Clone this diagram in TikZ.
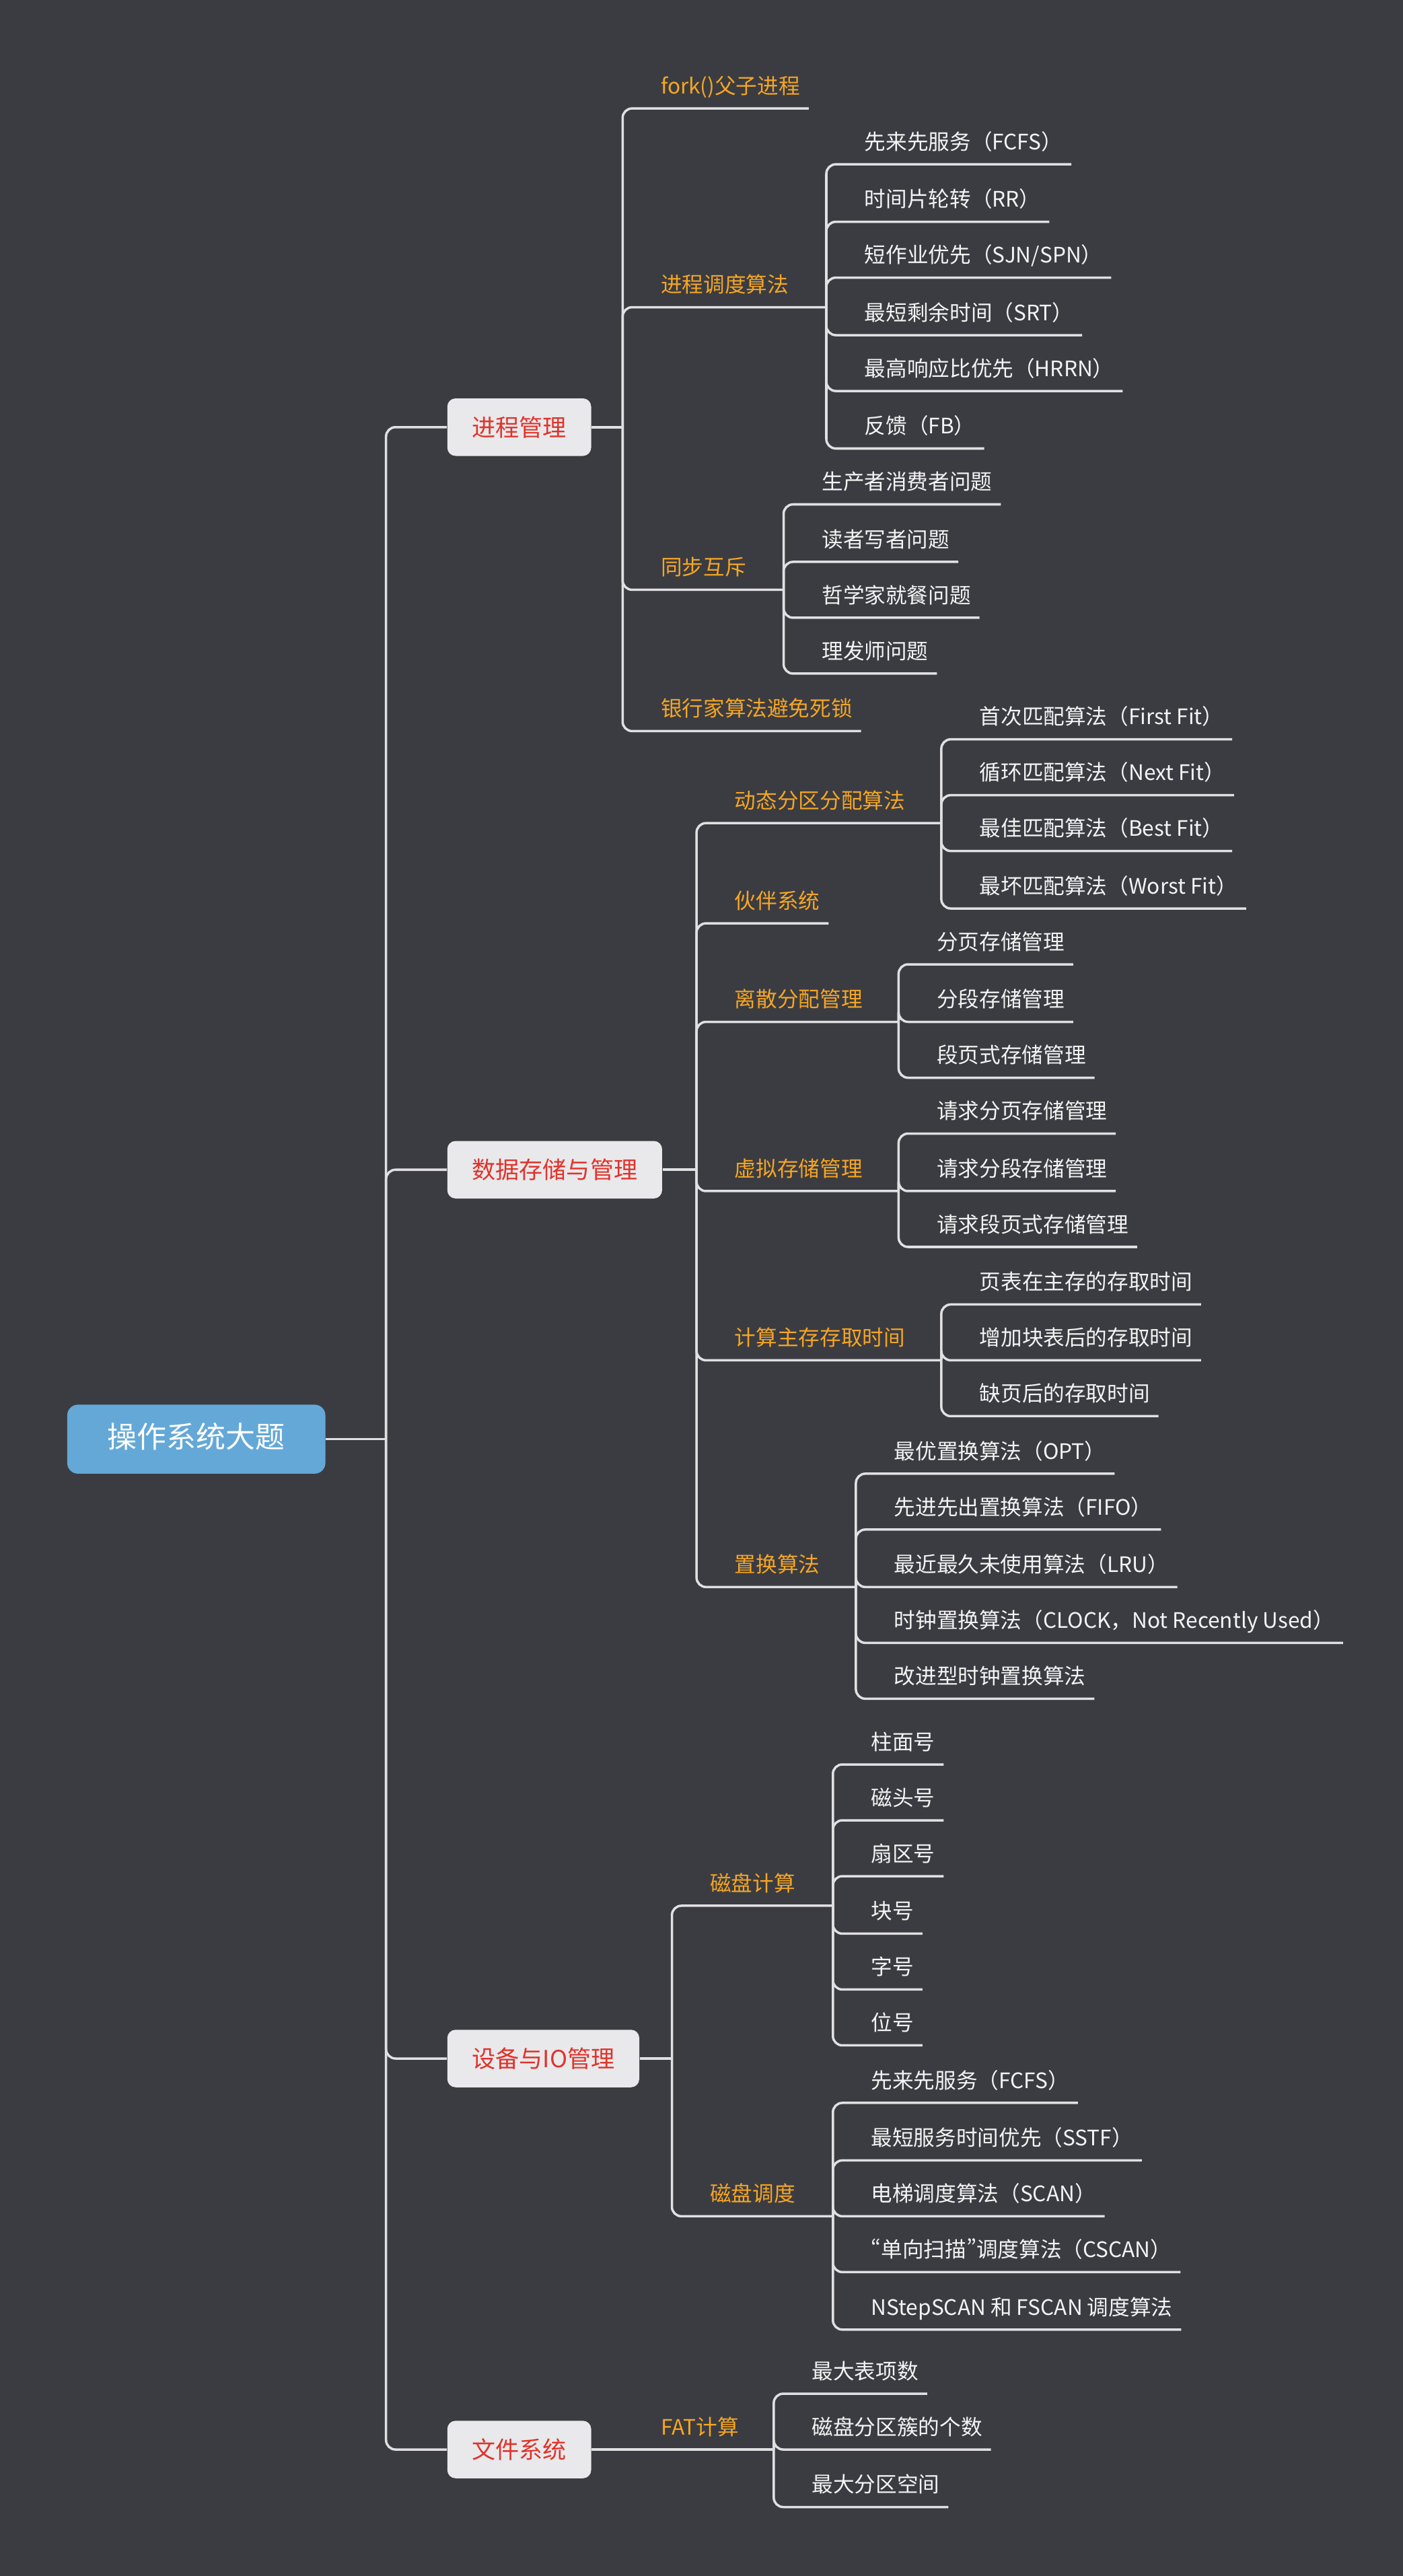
\documentclass[tikz,border=0pt]{standalone}
\usepackage{fontspec}
\usepackage{tikz}
\newfontfamily\cjk{Noto Sans CJK SC}
\newfontfamily\cjknarrow[RawFeature=+pwid]{Noto Sans CJK SC}
\definecolor{bgdark}{HTML}{3B3C42}
\definecolor{linkgray}{HTML}{E0E0E2}
\definecolor{boxgray}{HTML}{E9E9EB}
\definecolor{topicred}{HTML}{E0332B}
\definecolor{suborange}{HTML}{F5A623}
\definecolor{rootblue}{HTML}{64A8D8}
\definecolor{leafwhite}{HTML}{F4F4F4}

\begin{document}
\begin{tikzpicture}[x=0.24414mm, y=-0.24414mm,
    link/.style={draw=linkgray, line width=1pt, rounded corners=4pt},
    rootbox/.style={fill=rootblue, text=white, rounded corners=4.5pt, inner xsep=6mm, inner ysep=0pt,
        minimum height=10.25mm, font=\cjk\fontsize{12.5pt}{14pt}\selectfont, text height=0.76em, text depth=0pt},
    topic/.style={anchor=west, fill=boxgray, text=topicred, rounded corners=3.5pt, inner xsep=3.66mm, inner ysep=0pt,
        minimum height=8.55mm, font=\cjk\fontsize{10pt}{12pt}\selectfont, text height=0.76em, text depth=0pt},
    sub/.style={anchor=south west, text=suborange, inner xsep=1.22mm, inner ysep=2.1mm,
        font=\cjk\fontsize{9pt}{11pt}\selectfont, text height=0.76em, text depth=0pt},
    leaf/.style={sub, text=leafwhite}]
    % Background
    \fill[bgdark] (0,0) rectangle (854,1568);
    \useasboundingbox (0,0) rectangle (854,1568);

    % Root and main topics
    \node[rootbox] (root) at (119.5,876) {操作系统大题};
    \coordinate (rootT) at (235,876);
    \node[topic] (proc) at (272,260) {进程管理};
    \node[topic] (store) at (272,712) {数据存储与管理};
    \node[topic] (dev) at (272,1253) {设备与IO管理};
    \node[topic] (fs) at (272,1491) {文件系统};
    \draw[link] (root.east) -- (rootT);
    \draw[link] (rootT) |- (proc.west);
    \draw[link] (rootT) |- (store.west);
    \draw[link] (rootT) |- (dev.west);
    \draw[link] (rootT) |- (fs.west);

    % Process management
    \coordinate (procT) at (379,260);
    \node[sub] (fork) at (397,66) {fork()父子进程};
    \node[sub] (sched) at (397,187) {进程调度算法};
    \coordinate (schedT) at (503,187);
    \node[sub] (sync) at (397,359) {同步互斥};
    \coordinate (syncT) at (477,359);
    \node[sub] (bank) at (397,445) {银行家算法避免死锁};
    \draw[link] (proc.east) -- (procT);
    \draw[link] (procT) |- (fork.south east);
    \draw[link] (procT) |- (schedT);
    \draw[link] (procT) |- (syncT);
    \draw[link] (procT) |- (bank.south east);

    \node[leaf] (fcfs) at (521,100) {先来先服务（FCFS）};
    \node[leaf] (rr) at (521,135) {时间片轮转（RR）};
    \node[leaf] (sjn) at (521,169) {短作业优先（SJN/SPN）};
    \node[leaf] (srt) at (521,204) {最短剩余时间（SRT）};
    \node[leaf] (hrrn) at (521,238) {最高响应比优先（HRRN）};
    \node[leaf] (fb) at (521,273) {反馈（FB）};
    \draw[link] (schedT) |- (fcfs.south east);
    \draw[link] (schedT) |- (rr.south east);
    \draw[link] (schedT) |- (sjn.south east);
    \draw[link] (schedT) |- (srt.south east);
    \draw[link] (schedT) |- (hrrn.south east);
    \draw[link] (schedT) |- (fb.south east);

    \node[leaf] (prod) at (495,307) {生产者消费者问题};
    \node[leaf] (rw) at (495,342) {读者写者问题};
    \node[leaf] (phil) at (495,376) {哲学家就餐问题};
    \node[leaf] (barber) at (495,410) {理发师问题};
    \draw[link] (syncT) |- (prod.south east);
    \draw[link] (syncT) |- (rw.south east);
    \draw[link] (syncT) |- (phil.south east);
    \draw[link] (syncT) |- (barber.south east);

    % Storage management
    \coordinate (storeT) at (424,712);
    \node[sub] (dyn) at (442,501) {动态分区分配算法};
    \coordinate (dynT) at (573,501);
    \node[sub] (buddy) at (442,562) {伙伴系统};
    \node[sub] (disc) at (442,622) {离散分配管理};
    \coordinate (discT) at (547,622);
    \node[sub] (virt) at (442,725) {虚拟存储管理};
    \coordinate (virtT) at (547,725);
    \node[sub] (acc) at (442,828) {计算主存存取时间};
    \coordinate (accT) at (573,828);
    \node[sub] (repl) at (442,966) {置换算法};
    \coordinate (replT) at (521,966);
    \draw[link] (store.east) -- (storeT);
    \draw[link] (storeT) |- (dynT);
    \draw[link] (storeT) |- (buddy.south east);
    \draw[link] (storeT) |- (discT);
    \draw[link] (storeT) |- (virtT);
    \draw[link] (storeT) |- (accT);
    \draw[link] (storeT) |- (replT);

    \node[leaf] (ff) at (591,450) {首次匹配算法（First Fit）};
    \node[leaf] (nf) at (591,484) {循环匹配算法（Next Fit）};
    \node[leaf] (bf) at (591,518) {最佳匹配算法（Best Fit）};
    \node[leaf] (wf) at (591,553) {最坏匹配算法（Worst Fit）};
    \draw[link] (dynT) |- (ff.south east);
    \draw[link] (dynT) |- (nf.south east);
    \draw[link] (dynT) |- (bf.south east);
    \draw[link] (dynT) |- (wf.south east);

    \node[leaf] (page) at (565,587) {分页存储管理};
    \node[leaf] (seg) at (565,622) {分段存储管理};
    \node[leaf] (segpage) at (565,656) {段页式存储管理};
    \draw[link] (discT) |- (page.south east);
    \draw[link] (discT) |- (seg.south east);
    \draw[link] (discT) |- (segpage.south east);

    \node[leaf] (rpage) at (565,690) {请求分页存储管理};
    \node[leaf] (rseg) at (565,725) {请求分段存储管理};
    \node[leaf] (rsegpage) at (565,759) {请求段页式存储管理};
    \draw[link] (virtT) |- (rpage.south east);
    \draw[link] (virtT) |- (rseg.south east);
    \draw[link] (virtT) |- (rsegpage.south east);

    \node[leaf] (pt) at (591,794) {页表在主存的存取时间};
    \node[leaf] (tlb) at (591,828) {增加块表后的存取时间};
    \node[leaf] (fault) at (591,862) {缺页后的存取时间};
    \draw[link] (accT) |- (pt.south east);
    \draw[link] (accT) |- (tlb.south east);
    \draw[link] (accT) |- (fault.south east);

    \node[leaf] (opt) at (539,897) {最优置换算法（OPT）};
    \node[leaf] (fifo) at (539,931) {先进先出置换算法（FIFO）};
    \node[leaf] (lru) at (539,966) {最近最久未使用算法（LRU）};
    \node[leaf] (clock) at (539,1000) {时钟置换算法（CLOCK，Not Recently Used）};
    \node[leaf] (eclock) at (539,1034) {改进型时钟置换算法};
    \draw[link] (replT) |- (opt.south east);
    \draw[link] (replT) |- (fifo.south east);
    \draw[link] (replT) |- (lru.south east);
    \draw[link] (replT) |- (clock.south east);
    \draw[link] (replT) |- (eclock.south east);

    % Devices and IO
    \coordinate (devT) at (409,1253);
    \node[sub] (dcalc) at (427,1160) {磁盘计算};
    \coordinate (dcalcT) at (507,1160);
    \node[sub] (dsched) at (427,1349) {磁盘调度};
    \coordinate (dschedT) at (507,1349);
    \draw[link] (dev.east) -- (devT);
    \draw[link] (devT) |- (dcalcT);
    \draw[link] (devT) |- (dschedT);

    \node[leaf] (cyl) at (525,1074) {柱面号};
    \node[leaf] (head) at (525,1108) {磁头号};
    \node[leaf] (sector) at (525,1142) {扇区号};
    \node[leaf] (block) at (525,1177) {块号};
    \node[leaf] (word) at (525,1211) {字号};
    \node[leaf] (bit) at (525,1245) {位号};
    \draw[link] (dcalcT) |- (cyl.south east);
    \draw[link] (dcalcT) |- (head.south east);
    \draw[link] (dcalcT) |- (sector.south east);
    \draw[link] (dcalcT) |- (block.south east);
    \draw[link] (dcalcT) |- (word.south east);
    \draw[link] (dcalcT) |- (bit.south east);

    \node[leaf] (dfcfs) at (525,1280) {先来先服务（FCFS）};
    \node[leaf] (sstf) at (525,1315) {最短服务时间优先（SSTF）};
    \node[leaf] (scan) at (525,1349) {电梯调度算法（SCAN）};
    \node[leaf] (cscan) at (525,1383) {{\cjknarrow “}单向扫描{\cjknarrow ”}调度算法（CSCAN）};
    \node[leaf] (nstep) at (525,1418) {NStepSCAN 和 FSCAN 调度算法};
    \draw[link] (dschedT) |- (dfcfs.south east);
    \draw[link] (dschedT) |- (sstf.south east);
    \draw[link] (dschedT) |- (scan.south east);
    \draw[link] (dschedT) |- (cscan.south east);
    \draw[link] (dschedT) |- (nstep.south east);

    % File system
    \node[sub] (fat) at (397,1491) {FAT计算};
    \coordinate (fatT) at (471,1491);
    \draw[link] (fs.east) -- (fatT);

    \node[leaf] (maxent) at (489,1457) {最大表项数};
    \node[leaf] (clusters) at (489,1491) {磁盘分区簇的个数};
    \node[leaf] (maxpart) at (489,1526) {最大分区空间};
    \draw[link] (fatT) |- (maxent.south east);
    \draw[link] (fatT) |- (clusters.south east);
    \draw[link] (fatT) |- (maxpart.south east);
\end{tikzpicture}
\end{document}
